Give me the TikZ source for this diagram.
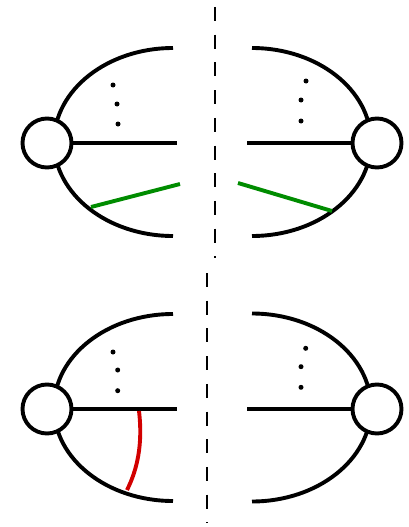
\documentclass[tikz,border=0pt]{standalone}
\usetikzlibrary{calc}
\definecolor{lgreen}{RGB}{0,140,0}
\definecolor{lred}{RGB}{210,0,0}
\begin{document}
\begin{tikzpicture}[x=1pt,y=-1pt,
  leg/.style={line width=3.9pt},
  blob/.style={circle,draw,fill=white,line width=3.9pt,inner sep=0pt,minimum size=49pt},
  dotmark/.style={fill=black},
  cutline/.style={line width=2pt,dash pattern=on 14pt off 13.7pt},
  gline/.style={line width=3.9pt,lgreen},
  rline/.style={line width=3.9pt,lred}]
\useasboundingbox (0,0) rectangle (408,527);
% dashed cuts
\coordinate (c1a) at (214.5,7);
\coordinate (c1b) at (214.5,258);
\coordinate (c2a) at (207.3,273);
\coordinate (c2b) at (207.3,523);
\draw[cutline] (c1a) -- (c1b);
\draw[cutline] (c2a) -- (c2b);
% outer arcs
\draw[leg] (173,48) arc[start angle=270,end angle=90,x radius=119,y radius=94];
\draw[leg] (252,48) arc[start angle=-90,end angle=90,x radius=119,y radius=94];
\draw[leg] (173,314) arc[start angle=270,end angle=90,x radius=119,y radius=93.5];
\draw[leg] (252,313.5) arc[start angle=-90,end angle=90,x radius=119,y radius=94];
% blobs
\node[blob] (TL) at (47,143) {};
\node[blob] (TR) at (377,143) {};
\node[blob] (BL) at (47,409) {};
\node[blob] (BR) at (377,409) {};
% middle legs
\coordinate (tlm) at (177,143);
\coordinate (trm) at (247,143);
\coordinate (blm) at (177,409);
\coordinate (brm) at (247,409);
\draw[leg] (TL.east) -- (tlm);
\draw[leg] (TR.west) -- (trm);
\draw[leg] (BL.east) -- (blm);
\draw[leg] (BR.west) -- (brm);
% dots
\foreach \p in {(113,85),(117,104),(118,124),(306,81),(301,100),(301,121),
  (113,352),(117.7,370),(117.7,390.7),(305.7,348.3),(301,366.7),(301,387.3)}
  \fill[dotmark] \p circle[radius=2.5pt];
% green lines
\coordinate (g1a) at (91,207);
\coordinate (g1b) at (180,184);
\coordinate (g2a) at (238,183);
\coordinate (g2b) at (332,211);
\draw[gline] (g1a) -- (g1b);
\draw[gline] (g2a) -- (g2b);
% red curve
\coordinate (r1) at (139,411);
\coordinate (r2) at (127,490);
\draw[rline] (r1) .. controls (143,445) and (137,470) .. (r2);
\end{tikzpicture}
\end{document}
